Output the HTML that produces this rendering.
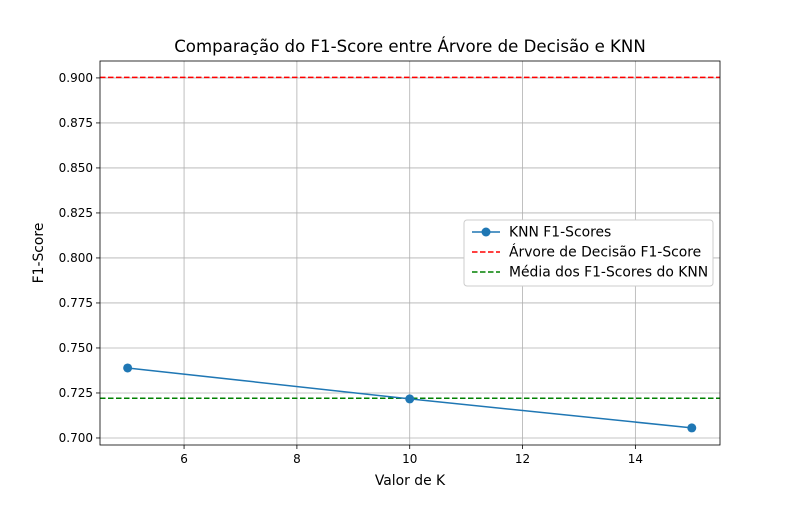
<!DOCTYPE html>
<html><head><meta charset="utf-8"><style>
body{margin:0;background:#fff}
svg text{font-family:"DejaVu Sans","Liberation Sans",sans-serif;fill:#000}
</style></head><body>
<svg id="chart" width="800" height="500" xmlns="http://www.w3.org/2000/svg"></svg>
<script>
const kValues=[5,10,15];
const knnScores=[0.7389,0.7217,0.7056];
const treeScore=0.9003;
const xTicks=[6,8,10,12,14];
const yTicks=[0.700,0.725,0.750,0.775,0.800,0.825,0.850,0.875,0.900];
const L=100,R=720,T=61,B=445;
const xMin=4.51,xMax=15.5,yMin=0.6961,yMax=0.9094;
const sx=v=>L+(v-xMin)/(xMax-xMin)*(R-L);
const sy=v=>B-(v-yMin)/(yMax-yMin)*(B-T);
const svg=document.getElementById('chart');
const NS='http://www.w3.org/2000/svg';
function mk(tag,attrs,name,parent){const e=document.createElementNS(NS,tag);for(const k in attrs)e.setAttribute(k,attrs[k]);


(parent||svg).appendChild(e);return e;}
xTicks.forEach(t=>{const x=sx(t);
mk('line',{x1:x,x2:x,y1:T,y2:B,stroke:'#b0b0b0','stroke-width':0.8},'x-grid-line');
mk('line',{x1:x,x2:x,y1:B,y2:B+4,stroke:'#000','stroke-width':0.8},'x-tick');
const tx=mk('text',{x:x,y:B+18,'font-size':12,'text-anchor':'middle'},'x-tick-label');tx.textContent=t;});
yTicks.forEach(t=>{const y=sy(t);
mk('line',{x1:L,x2:R,y1:y,y2:y,stroke:'#b0b0b0','stroke-width':0.8},'y-grid-line');
mk('line',{x1:L-4,x2:L,y1:y,y2:y,stroke:'#000','stroke-width':0.8},'y-tick');
const tx=mk('text',{x:L-7,y:y+4,'font-size':12,'text-anchor':'end'},'y-tick-label');tx.textContent=t.toFixed(3);});
const mean=knnScores.reduce((a,b)=>a+b,0)/knnScores.length;
mk('line',{x1:L,x2:R,y1:sy(treeScore),y2:sy(treeScore),stroke:'#ff0000','stroke-width':1.5,'stroke-dasharray':'5.5,2.5'},'tree-f1-line');
mk('line',{x1:L,x2:R,y1:sy(mean),y2:sy(mean),stroke:'#008000','stroke-width':1.5,'stroke-dasharray':'5.5,2.5'},'knn-mean-line');
mk('polyline',{points:kValues.map((k,i)=>sx(k)+','+sy(knnScores[i])).join(' '),fill:'none',stroke:'#1f77b4','stroke-width':1.5},'knn-line');
kValues.forEach((k,i)=>mk('circle',{cx:sx(k),cy:sy(knnScores[i]),r:4.5,fill:'#1f77b4'},'knn-point'));
mk('rect',{x:L,y:T,width:R-L,height:B-T,fill:'none',stroke:'#000','stroke-width':0.8},'plot-frame');
let t=mk('text',{x:410,y:52,'font-size':16.6,'text-anchor':'middle'},'chart-title');t.textContent='Comparação do F1-Score entre Árvore de Decisão e KNN';
t=mk('text',{x:410,y:485,'font-size':13.9,'text-anchor':'middle'},'x-axis-title');t.textContent='Valor de K';
t=mk('text',{x:43,y:253,'font-size':13.9,'text-anchor':'middle',transform:'rotate(-90 43 253)'},'y-axis-title');t.textContent='F1-Score';
const g=mk('g',{},'legend');
mk('rect',{x:464,y:220,width:249,height:66,fill:'#fff',stroke:'#ccc',rx:3},'legend-box',g);
const items=[['KNN F1-Scores','#1f77b4',false],['Árvore de Decisão F1-Score','#ff0000',true],['Média dos F1-Scores do KNN','#008000',true]];
items.forEach((it,i)=>{const y=232+i*20;
mk('line',{x1:472,x2:500,y1:y,y2:y,stroke:it[1],'stroke-width':1.5,'stroke-dasharray':it[2]?'5.5,2.5':'none'},'legend-line',g);
if(!it[2])mk('circle',{cx:486,cy:y,r:4.5,fill:it[1]},'legend-marker',g);
const tx=mk('text',{x:509,y:y+4.5,'font-size':13.9},'legend-entry',g);tx.textContent=it[0];});
</script>
</body></html>
